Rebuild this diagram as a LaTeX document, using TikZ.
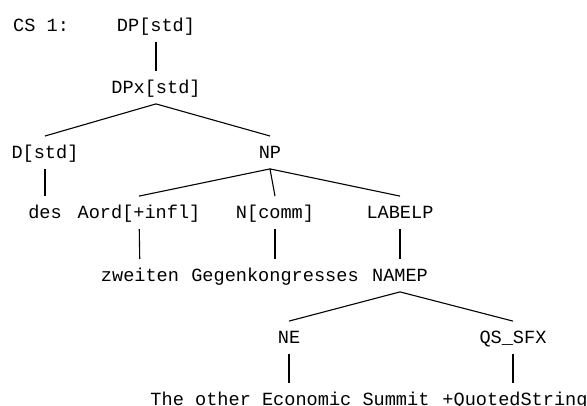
\documentclass[tikz,border=0pt]{standalone}
\usepackage{fontspec}
\setmonofont{Liberation Mono}
\begin{document}
\begin{tikzpicture}[x=1pt, y=-1pt,
    cat/.style={anchor=base, font=\ttfamily\fontsize{18.6}{20}\selectfont,
      inner xsep=0pt, inner ysep=10.5pt,
      text height=11.5pt, text depth=0pt},
    branch/.style={draw=black, line width=1.1pt}
  ]
  \useasboundingbox (0,0) rectangle (587,405);
  \node[cat, anchor=base west] (cs) at (13,31.7) {CS 1:};
  \node[cat] (dp)      at (156,31.7)  {DP[std]};
  \node[cat] (dpx)     at (156,93.2)  {DPx[std]};
  \node[cat] (d)       at (45,158.2)  {D[std]};
  \node[cat] (np)      at (270,158.2) {NP};
  \node[cat] (des)     at (45,218.3)  {des};
  \node[cat] (aord)    at (139,218.3) {Aord[+infl]};
  \node[cat] (ncomm)   at (275,218.3) {N[comm]};
  \node[cat] (labelp)  at (400,218.3) {LABELP};
  \node[cat] (zweiten) at (140,281.2) {zweiten};
  \node[cat] (gegen)   at (275,281.2) {Gegenkongresses};
  \node[cat] (namep)   at (400,281.2) {NAMEP};
  \node[cat] (ne)      at (289,343.3) {NE};
  \node[cat] (qs)      at (513,343.3) {QS\_SFX};
  \node[cat] (ecsum)   at (290,405.5) {The other Economic Summit};
  \node[cat] (quoted)  at (515,405.5) {+QuotedString};
  % branches
  \draw[branch] (dp) -- (dpx);
  \draw[branch] (dpx.south) -- (d.north);
  \draw[branch] (dpx.south) -- (np.north);
  \draw[branch] (d) -- (des);
  \draw[branch] (np.south) -- (aord.north);
  \draw[branch] (np.south) -- (ncomm.north);
  \draw[branch] (np.south) -- (labelp.north);
  \draw[branch] (aord) -- (zweiten);
  \draw[branch] (ncomm) -- (gegen);
  \draw[branch] (labelp) -- (namep);
  \draw[branch] (namep.south) -- (ne.north);
  \draw[branch] (namep.south) -- (qs.north);
  \draw[branch] (ne) -- (ecsum.north -| ne);
  \draw[branch] (qs) -- (quoted.north -| qs);
\end{tikzpicture}
\end{document}
